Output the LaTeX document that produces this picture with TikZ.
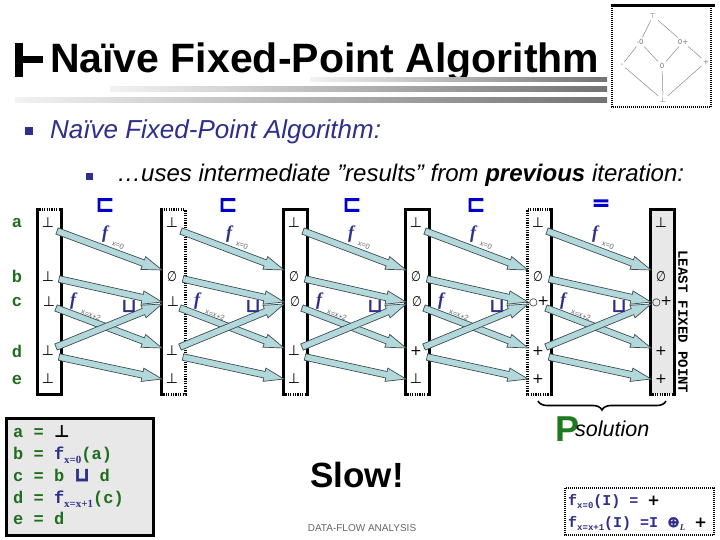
\documentclass[tikz,border=0pt]{standalone}
\usepackage{fontspec}
\usepackage{graphicx}
\setmainfont{Liberation Sans}
\newfontfamily\mono{Liberation Mono}
\newfontfamily\serif{Liberation Serif}
\newfontfamily\sym{DejaVu Sans}
\newfontfamily\symb{DejaVu Sans}[FakeBold=3]
\newfontfamily\symbb{DejaVu Sans}[FakeBold=5]
\usetikzlibrary{calc,decorations.pathreplacing}
\definecolor{arrfill}{HTML}{B2D8DC}
\definecolor{arrline}{HTML}{3E4E50}
\definecolor{ink}{HTML}{2E2E8C}
\definecolor{grn}{HTML}{1E6E1E}
\definecolor{bblue}{HTML}{0000CC}
\definecolor{panel}{HTML}{E8E8E8}
\definecolor{logo}{HTML}{1F7A1F}
\newcommand\fatarrow[2]{%
  \coordinate (fabase) at ($(#2)!20pt!(#1)$);
  \filldraw[fatarr] ($(#1)!3.3pt!90:(#2)$) -- ($(fabase)!3.3pt!90:(#2)$) -- ($(fabase)!6.8pt!90:(#2)$) -- (#2) -- ($(fabase)!6.8pt!-90:(#2)$) -- ($(fabase)!3.3pt!-90:(#2)$) -- ($(#1)!3.3pt!-90:(#2)$) -- cycle;}
\newcommand\vbot{⊥}
\newcommand\vemp{\scalebox{0.8}[1]{∅}}
\newcommand\vzp{{\fontsize{10}{10}\selectfont ○}\kern-0.5pt+}
\newcommand\vpl{+}
\newcommand\subs[1]{\raisebox{-4pt}{\serif\bfseries\fontsize{11}{11}\selectfont #1}}
\begin{document}
\begin{tikzpicture}[x=1pt,y=-1pt,
  fatarr/.style={fill=arrfill,draw=arrline,line width=0.7pt,line join=miter},
  solidb/.style={line width=3pt,line cap=rect},
  dotb/.style={line width=3pt,dash pattern=on 1.2pt off 1.2pt},
  valtext/.style={font=\sym\fontsize{14}{14}\selectfont,inner sep=0pt},
  rowlab/.style={font=\mono\bfseries\fontsize{17}{17}\selectfont,text=grn,anchor=base,inner sep=0pt},
  flab/.style={font=\serif\bfseries\itshape\fontsize{18}{18}\selectfont,text=ink,inner sep=0pt},
  sublab/.style={font=\fontsize{7.5}{7.5}\selectfont,text=black!60,inner sep=0pt},
  joinlab/.style={font=\symb\fontsize{19}{19}\selectfont,text=ink,inner sep=0pt},
  ordlab/.style={font=\symbb\fontsize{22}{22}\selectfont,text=bblue,inner sep=0pt},
  legline/.style={font=\mono\bfseries\fontsize{17}{17}\selectfont,text=grn,anchor=base west,inner sep=0pt},
  resline/.style={font=\mono\bfseries\fontsize{15}{15}\selectfont,text=ink,anchor=base west,inner sep=0pt},
  latt/.style={font=\sym\fontsize{7}{7}\selectfont,text=black!55,inner sep=1pt},
  lattedge/.style={draw=black!45,line width=0.5pt,shorten <=1pt,shorten >=1pt}]
\useasboundingbox (0,0) rectangle (720,540);
\fill[white] (0,0) rectangle (720,540);
% title
\fill (15,43) rectangle (23,77);
\fill (15,56) rectangle (43,63);
\node[anchor=base west,inner sep=0pt,font=\bfseries\fontsize{41}{41}\selectfont] (title) at (50,73) {Naïve Fixed-Point Algorithm};
\shade[left color=black!5,right color=black!55] (310,78) rectangle (607,82);
\shade[left color=black!5,right color=black!55] (110,87) rectangle (607,92);
\shade[left color=black!5,right color=black!55] (15,98) rectangle (607,103);
% lattice thumbnail
\draw[line width=3pt] (611,6) -- (715,6);
\draw[line width=2pt,dash pattern=on 1pt off 1pt] (612,6) -- (612,107) -- (711,107) -- (711,6);
\node[latt] (lt) at (653,16) {⊤};
\node[latt] (lmz) at (640,42) {-0};
\node[latt] (lzp) at (683,42) {0+};
\node[latt] (lm) at (622,65) {-};
\node[latt] (lz) at (662,66) {0};
\node[latt] (lp) at (706,62) {+};
\node[latt] (lb) at (663,100) {⊥};
\path[lattedge] (lt) -- (lmz);
\path[lattedge] (lt) -- (lzp);
\path[lattedge] (lmz) -- (lm);
\path[lattedge] (lmz) -- (lz);
\path[lattedge] (lzp) -- (lz);
\path[lattedge] (lzp) -- (lp);
\path[lattedge] (lm) -- (lb);
\path[lattedge] (lz) -- (lb);
\path[lattedge] (lp) -- (lb);
% bullets
\fill[ink] (25,127) rectangle (33,135);
\node[anchor=base west,inner sep=0pt,text=ink,font=\itshape\fontsize{26}{26}\selectfont] (sub1) at (50,139) {Naïve Fixed-Point Algorithm:};
\fill[ink] (86,173) rectangle (93,180);
\node[anchor=base west,inner sep=0pt,font=\itshape\fontsize{24}{24}\selectfont] (sub2) at (117,182) {…uses intermediate ”results” from \textbf{previous} iteration:};
% row labels
\node[rowlab] (ra) at (17,227) {a};
\node[rowlab] (rb) at (17,282) {b};
\node[rowlab] (rc) at (17,306) {c};
\node[rowlab] (rd) at (17,357) {d};
\node[rowlab] (re) at (17,384) {e};
% columns
\draw[solidb] (37,210) -- (37,394) -- (61,394) -- (61,210);
\draw[dotb] (37,210) -- (61,210);
\draw[solidb] (161,210) -- (161,394);
\draw[dotb] (161,394) -- (185,394) -- (185,210) -- (161,210);
\draw[solidb] (283,394) -- (283,210) -- (307,210) -- (307,394);
\draw[dotb] (283,394) -- (307,394);
\draw[solidb] (405,394) -- (405,210) -- (429,210) -- (429,394);
\draw[dotb] (405,394) -- (429,394);
\draw[solidb] (551,210) -- (551,394);
\draw[dotb] (551,394) -- (527,394) -- (527,210) -- (551,210);
\fill[panel] (650,210) rectangle (674,394);
\draw[solidb] (650,394) -- (650,210) -- (674,210) -- (674,394);
\draw[dotb] (650,394) -- (674,394);
% column values
\foreach \k/\L/\va/\vb/\vc/\vd/\ve in {1/37/\vbot/\vbot/\vbot/\vbot/\vbot,2/161/\vbot/\vemp/\vbot/\vbot/\vbot,3/283/\vbot/\vemp/\vemp/\vbot/\vbot,4/405/\vbot/\vemp/\vemp/\vpl/\vbot,5/527/\vbot/\vemp/\vzp/\vpl/\vpl,6/650/\vbot/\vemp/\vzp/\vpl/\vpl}{
  \node[valtext] (v\k a) at (\L+11,223) {\va};
  \node[valtext] (v\k b) at (\L+11,277) {\vb};
  \node[valtext] (v\k c) at (\L+12,302) {\vc};
  \node[valtext] (v\k d) at (\L+11,351) {\vd};
  \node[valtext] (v\k e) at (\L+11,379) {\ve};
}
% arrows
\foreach \k/\L/\N in {1/37/161,2/161/283,3/283/405,4/405/527,5/527/650}{
  \coordinate (as\k) at (\L+20,231); \coordinate (ae\k) at (\N+1,270);
  \coordinate (bs\k) at (\L+22,279); \coordinate (be\k) at (\N+1,302);
  \coordinate (cs\k) at (\L+19,308); \coordinate (ce\k) at (\N+1,348);
  \coordinate (ds\k) at (\L+19,347); \coordinate (de\k) at (\N+1,304);
  \coordinate (es\k) at (\L+22,357); \coordinate (ee\k) at (\N+1,379);
  \fatarrow{as\k}{ae\k}
  \fatarrow{bs\k}{be\k}
  \fatarrow{cs\k}{ce\k}
  \fatarrow{ds\k}{de\k}
  \fatarrow{es\k}{ee\k}
  \node[flab] (fa\k) at (\L+68,234) {f};
  \node[sublab,rotate=-20] (sa\k) at (\L+81,245) {x=0};
  \node[flab] (fc\k) at (\L+36,301) {f};
  \node[sublab,rotate=-21] (sc\k) at (\L+54,315) {x=x+2};
  \node[joinlab] (j\k) at (\L+92,306) {⊔};
}
% order symbols
\node[ordlab] (o1) at (105,205) {⊏};
\node[ordlab] (o2) at (228,205) {⊏};
\node[ordlab] (o3) at (352,205) {⊏};
\node[ordlab] (o4) at (476,205) {⊏};
\node[ordlab] (o5) at (601,205) {=};
% least fixed point
\node[font=\mono\bfseries\fontsize{14}{14}\selectfont,rotate=-90,inner sep=0pt] (lfp) at (683,322) {LEAST FIXED POINT};
% brace and solution
\draw[line width=1.6pt,decorate,decoration={brace,amplitude=9pt,mirror}] (538,401) -- (666,401);
\node[anchor=base,inner sep=0pt,text=logo,font=\bfseries\fontsize{36}{36}\selectfont] (logo) at (567,441) {P};
\node[anchor=base west,inner sep=0pt,font=\itshape\fontsize{21.5}{21.5}\selectfont] (sol) at (575,436) {solution};
% legend box
\draw[line width=3pt,fill=panel] (6,418) rectangle (153,535);
\node[legline] (la) at (13,437) {a = {\color{black}\sym ⊥}};
\node[legline] (lbb) at (13,459) {b = {\color{ink}f\subs{x=0}}(a)};
\node[legline] (lc) at (13,481) {c = b {\color{ink}\symb\fontsize{19}{19}\selectfont ⊔} d};
\node[legline] (ld) at (13,503) {d = {\color{ink}f\subs{x=x+1}}(c)};
\node[legline] (le) at (13,524) {e = d};
% slow
\node[anchor=base,inner sep=0pt,font=\bfseries\fontsize{35}{35}\selectfont] (slow) at (357,487) {Slow!};
\node[anchor=base,inner sep=0pt,text=black!60,font=\fontsize{10}{10}\selectfont] (dfa) at (362,531) {DATA-FLOW ANALYSIS};
% result box
\draw[line width=2.2pt,dash pattern=on 1pt off 1pt] (565,488) rectangle (714,535);
\node[resline] (r1) at (568,505) {f\raisebox{-3pt}{\fontsize{9}{9}\selectfont x=0}(I) = {\color{black}\sym +}};
\node[resline] (r2) at (568,527) {f\raisebox{-3pt}{\fontsize{9}{9}\selectfont x=x+1}(I) =I {\symb ⊕}\raisebox{-3pt}{\serif\itshape\fontsize{9}{9}\selectfont L} {\color{black}\sym +}};
\end{tikzpicture}
\end{document}
